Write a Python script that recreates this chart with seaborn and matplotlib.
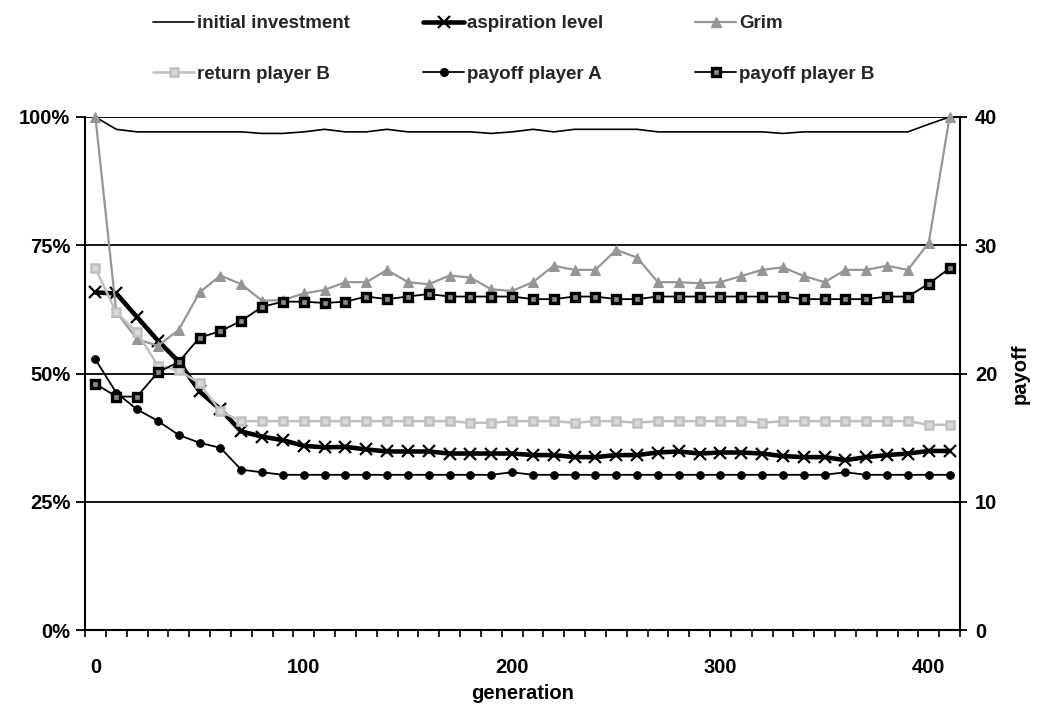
import matplotlib
matplotlib.use("Agg")
import matplotlib.pyplot as plt
import seaborn as sns
from matplotlib.lines import Line2D
from matplotlib.ticker import FixedLocator, FuncFormatter

# ---------------- data ----------------
generation = list(range(0, 420, 10))

initial_investment = [100, 97.6, 97.1, 97.1, 97.1, 97.1, 97.1, 97.1, 96.8, 96.8,
                      97.1, 97.6, 97.1, 97.1, 97.6, 97.1, 97.1, 97.1, 97.1, 96.8,
                      97.1, 97.6, 97.1, 97.6, 97.6, 97.6, 97.6, 97.1, 97.1, 97.1,
                      97.1, 97.1, 97.1, 96.8, 97.1, 97.1, 97.1, 97.1, 97.1, 97.1,
                      98.6, 100]

aspiration_level = [65.8, 65.6, 61.0, 56.4, 52.3, 46.5, 43.0, 38.7, 37.7, 37.0,
                    35.9, 35.6, 35.7, 35.2, 34.8, 34.8, 34.8, 34.4, 34.4, 34.4,
                    34.4, 34.1, 34.1, 33.7, 33.7, 34.1, 34.1, 34.6, 34.8, 34.4,
                    34.6, 34.6, 34.4, 33.9, 33.7, 33.7, 33.1, 33.7, 34.1, 34.4,
                    34.9, 34.9]

grim = [100, 62.0, 56.7, 55.4, 58.5, 65.8, 69.1, 67.4, 64.2, 64.3,
        65.6, 66.3, 67.8, 67.8, 70.2, 67.8, 67.4, 69.1, 68.7, 66.4,
        66.1, 67.8, 71.0, 70.2, 70.2, 74.1, 72.6, 67.8, 67.8, 67.6,
        67.8, 69.0, 70.2, 70.7, 69.0, 67.8, 70.2, 70.2, 71.0, 70.2,
        75.5, 100]

return_player_b = [70.5, 61.9, 58.0, 51.5, 50.6, 48.1, 42.6, 40.7, 40.7, 40.7,
                   40.7, 40.7, 40.7, 40.7, 40.7, 40.7, 40.7, 40.7, 40.4, 40.4,
                   40.7, 40.7, 40.7, 40.4, 40.7, 40.7, 40.4, 40.7, 40.7, 40.7,
                   40.7, 40.7, 40.4, 40.7, 40.7, 40.7, 40.7, 40.7, 40.7, 40.7,
                   40.0, 40.0]

payoff_player_a = [21.1, 18.5, 17.2, 16.3, 15.2, 14.6, 14.2, 12.5, 12.3, 12.1,
                   12.1, 12.1, 12.1, 12.1, 12.1, 12.1, 12.1, 12.1, 12.1, 12.1,
                   12.3, 12.1, 12.1, 12.1, 12.1, 12.1, 12.1, 12.1, 12.1, 12.1,
                   12.1, 12.1, 12.1, 12.1, 12.1, 12.1, 12.3, 12.1, 12.1, 12.1,
                   12.1, 12.1]

payoff_player_b = [19.2, 18.2, 18.2, 20.1, 20.9, 22.8, 23.3, 24.1, 25.2, 25.6,
                   25.6, 25.5, 25.6, 26.0, 25.8, 26.0, 26.2, 26.0, 26.0, 26.0,
                   26.0, 25.8, 25.8, 26.0, 26.0, 25.8, 25.8, 26.0, 26.0, 26.0,
                   26.0, 26.0, 26.0, 26.0, 25.8, 25.8, 25.8, 25.8, 26.0, 26.0,
                   27.0, 28.2]

pct_ticks = [0, 25, 50, 75, 100]
payoff_ticks = [0, 10, 20, 30, 40]
gen_ticks = [0, 100, 200, 300, 400]

# ---------------- style ----------------
sns.set_theme(style="white")
plt.rcParams['font.family'] = ['Liberation Sans', 'DejaVu Sans']
plt.rcParams['font.weight'] = 'bold'
plt.rcParams['axes.labelweight'] = 'bold'

styles = {
    "initial investment": dict(color="black", lw=1.2, marker=None),
    "aspiration level": dict(color="black", lw=3.3, marker="x", ms=9, mew=1.6,
                             mec="black"),
    "Grim": dict(color="#969696", lw=1.6, marker="^", ms=7, mec="#969696",
                 mfc="#969696"),
    "return player B": dict(color="#C0C0C0", lw=1.8, marker="s", ms=5.5,
                            mec="#C0C0C0", mfc="#D8D8D8", mew=1.8),
    "payoff player A": dict(color="black", lw=1.3, marker="o", ms=5.5,
                            mec="black", mfc="black"),
    "payoff player B": dict(color="black", lw=1.3, marker="s", ms=5.8,
                            mec="black", mfc="#8a8a8a", mew=2.4),
}

fig = plt.figure(figsize=(10.39, 7.11), dpi=100)
W, H = 1039, 711
ax = fig.add_axes([85 / W, 1 - 630 / H, 875 / W, 513 / H])
ax2 = ax.twinx()

left_series = [("initial investment", initial_investment),
               ("aspiration level", aspiration_level),
               ("Grim", grim),
               ("return player B", return_player_b)]
right_series = [("payoff player A", payoff_player_a),
                ("payoff player B", payoff_player_b)]

for name, vals in left_series:
    st = dict(styles[name])
    sns.lineplot(x=generation, y=vals, ax=ax, legend=False, clip_on=False,
                 zorder=3, **st)
for name, vals in right_series:
    st = dict(styles[name])
    sns.lineplot(x=generation, y=vals, ax=ax2, legend=False, clip_on=False,
                 zorder=3, **st)

# ---------------- axes ----------------
ax.set_xlim(-5, 415)
ax.set_ylim(0, 100)
ax2.set_ylim(0, 40)

ax.set_yticks(pct_ticks)
ax.yaxis.set_major_formatter(FuncFormatter(lambda v, p: f"{int(v)}%"))
ax2.set_yticks(payoff_ticks)

ax.set_xticks(gen_ticks)
ax.set_xticklabels([str(g) for g in gen_ticks])
ax.xaxis.set_minor_locator(FixedLocator(list(range(-5, 425, 10))))

ax.yaxis.grid(True, color="black", lw=1.3)
ax.xaxis.grid(False)
ax.set_axisbelow(True)

for a in (ax, ax2):
    for s in a.spines.values():
        s.set_visible(False)
ax.spines['left'].set_visible(True)
ax.spines['bottom'].set_visible(True)
ax2.spines['right'].set_visible(True)
for s in (ax.spines['left'], ax.spines['bottom'], ax2.spines['right']):
    s.set_color("black")
    s.set_linewidth(1.5)

ax.tick_params(axis='x', which='major', length=0, pad=20, labelsize=14.5,
               colors='black')
ax.tick_params(axis='x', which='minor', length=5, width=1.2, direction='out',
               color='black', bottom=True)
ax.tick_params(axis='y', which='major', length=6.5, width=1.3, direction='out',
               left=True, pad=4, labelsize=14.5, colors='black')
ax2.tick_params(axis='y', which='major', length=9.5, width=1.3,
                direction='inout', right=True, pad=6, labelsize=14.5,
                colors='black')

ax.set_xlabel("generation", fontsize=14.5, fontweight='bold', labelpad=5,
              color='black')
ax.set_ylabel("")
ax2.set_ylabel("payoff", fontsize=14.5, fontweight='bold', color='black')
ax2.yaxis.set_label_coords((1011 - 85) / 875, 0.5)

# ---------------- legend ----------------
def handle(name):
    st = styles[name]
    kw = dict(color=st["color"], lw=st["lw"])
    if st.get("marker"):
        kw.update(marker=st["marker"], ms=st.get("ms"), mew=st.get("mew", 1.0),
                  mec=st.get("mec"), mfc=st.get("mfc", st["color"]))
    return Line2D([0], [0], **kw)

columns = [(["initial investment", "return player B"], 153),
           (["aspiration level", "payoff player A"], 423),
           (["Grim", "payoff player B"], 695)]
for names, xpx in columns:
    leg = fig.legend([handle(n) for n in names], names, loc='upper left',
                     bbox_to_anchor=(xpx / W, 1 - 15 / H), frameon=False,
                     handlelength=2.2, handletextpad=0.15,
                     labelspacing=1.8, borderpad=0, borderaxespad=0,
                     prop=dict(weight='bold', size=13.5))

fig.savefig("out.png", dpi=100)
